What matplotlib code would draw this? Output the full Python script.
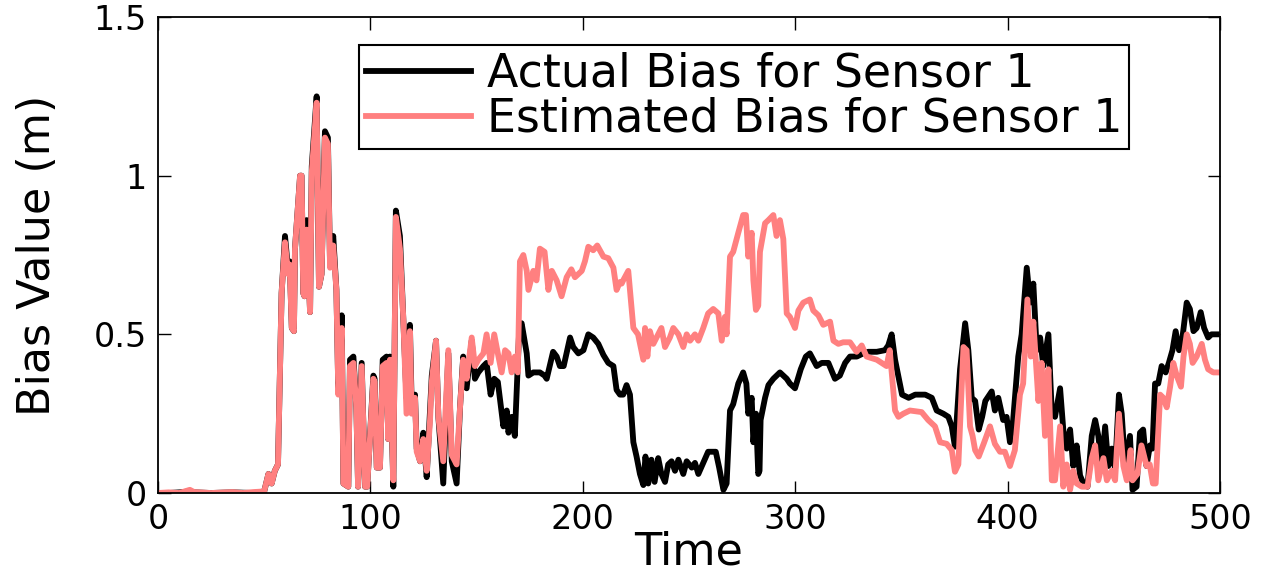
import matplotlib.pyplot as plt

# actual sensor bias (time, value)
t_actual = [0, 5, 10, 15, 17, 25, 35, 45, 50, 52, 53.5, 55, 56.5, 58.2, 59.8, 61.3, 62, 63, 64, 64.5,
            66.9, 67.6, 68.4, 69, 70, 71.6, 72.4, 74.7, 75.8, 77, 78.6, 80, 81, 82.5, 84, 84.9, 86.5,
            87.3, 89.6, 90.4, 92, 93.4, 94.2, 95.9, 97.5, 98.5, 101.4, 102, 103, 104.5, 105.8, 107.6,
            108.4, 109.2, 110.8, 112, 113.9, 115.5, 117, 118.6, 119.4, 121, 121.8, 123.4, 124.9, 126.5,
            128, 128.9, 130.9, 132, 134.3, 136.7, 138.3, 140.6, 142.2, 143.7, 145.3, 147.7, 149.2,
            150.8, 153.2, 154.7, 156.6, 158.3, 160, 162.6, 164.2, 165, 166.5, 168, 170.1, 171.2, 173.6,
            174.4, 176.7, 179.8, 182, 183, 186, 187.7, 189.2, 191, 194, 195.5, 197.9, 200.3, 202.6,
            204.9, 207.3, 209.7, 212, 214.4, 215.9, 217.5, 219, 220.6, 222.2, 223.8, 225.3, 226.9,
            228.5, 229.5, 230.8, 232.3, 233.8, 235.5, 237, 238.7, 240.2, 241.8, 243.4, 245, 247.3,
            248.9, 251.3, 252.8, 254.4, 256.7, 259, 262.6, 264.2, 266.2, 267.7, 269.3, 270.8, 273.2,
            275.5, 277, 277.9, 279.5, 280.3, 281.5, 282.6, 283.2, 283.7, 285.8, 287.4, 289.7, 292.8,
            294.4, 296, 297.5, 299.9, 302.6, 305, 306.9, 310.1, 312.5, 315.6, 318.7, 321, 323.5,
            325.8, 329, 332, 334.4, 338.4, 342.2, 343.8, 345.4, 347, 350.3, 353.4, 356.5, 361.2,
            364.3, 366.6, 369.7, 372.1, 373.7, 375.2, 377.6, 380, 381.5, 383.1, 384.7, 386.4, 388,
            389.5, 392.5, 394, 395.6, 397.9, 399.5, 401.1, 402.6, 405, 406.6, 409, 410.6, 412.1,
            413.7, 415.3, 416.8, 419.2, 420.8, 422.3, 424.7, 426.2, 427.8, 429.4, 430.9, 432.5,
            434.1, 435.7, 437.6, 439.6, 441.2, 442.7, 444.3, 445.9, 447.4, 449, 450.6, 452.4, 453.7,
            455.3, 457.6, 458.8, 460.7, 462.3, 463.8, 465.4, 467, 468.2, 469.4, 470.9, 472.5, 474.4,
            475.9, 477.6, 479.1, 480.7, 482.3, 484.3, 485.8, 487.5, 489, 490.9, 492.5, 494.4, 496,
            499.3, 500]
bias_actual = [0.0, 0.0, 0.002, 0.005, 0.002, 0.0, 0.002, 0.0, 0.005, 0.06, 0.03, 0.07, 0.09, 0.63,
               0.81, 0.70, 0.73, 0.52, 0.51, 0.77, 1.0, 1.0, 0.63, 0.62, 0.86, 0.57, 1.03, 1.25, 0.65,
               0.69, 1.14, 1.12, 0.72, 0.81, 0.64, 0.32, 0.56, 0.03, 0.02, 0.42, 0.43, 0.27, 0.02,
               0.41, 0.02, 0.02, 0.37, 0.36, 0.08, 0.08, 0.42, 0.43, 0.17, 0.43, 0.02, 0.89, 0.81,
               0.55, 0.30, 0.53, 0.29, 0.31, 0.14, 0.10, 0.19, 0.05, 0.25, 0.37, 0.48, 0.24, 0.03,
               0.44, 0.10, 0.03, 0.27, 0.43, 0.33, 0.48, 0.36, 0.38, 0.40, 0.41, 0.31, 0.36, 0.35,
               0.21, 0.26, 0.19, 0.24, 0.18, 0.52, 0.535, 0.44, 0.37, 0.38, 0.38, 0.37, 0.36, 0.445,
               0.43, 0.40, 0.40, 0.49, 0.46, 0.44, 0.45, 0.50, 0.49, 0.47, 0.435, 0.41, 0.40, 0.325,
               0.31, 0.31, 0.34, 0.31, 0.16, 0.115, 0.06, 0.025, 0.115, 0.03, 0.105, 0.035, 0.11,
               0.06, 0.035, 0.09, 0.10, 0.07, 0.105, 0.06, 0.10, 0.08, 0.095, 0.06, 0.095, 0.13,
               0.13, 0.08, 0.01, 0.03, 0.26, 0.28, 0.345, 0.38, 0.345, 0.25, 0.30, 0.16, 0.25, 0.06,
               0.07, 0.23, 0.30, 0.34, 0.36, 0.38, 0.37, 0.36, 0.345, 0.33, 0.39, 0.43, 0.44, 0.40,
               0.41, 0.41, 0.36, 0.37, 0.41, 0.43, 0.43, 0.44, 0.445, 0.445, 0.45, 0.465, 0.50, 0.42,
               0.31, 0.30, 0.31, 0.31, 0.30, 0.26, 0.25, 0.24, 0.21, 0.146, 0.39, 0.535, 0.45, 0.30,
               0.29, 0.20, 0.24, 0.29, 0.32, 0.26, 0.30, 0.23, 0.24, 0.16, 0.23, 0.43, 0.50, 0.71,
               0.60, 0.66, 0.45, 0.49, 0.40, 0.50, 0.25, 0.24, 0.33, 0.20, 0.14, 0.20, 0.085, 0.15,
               0.055, 0.03, 0.02, 0.18, 0.23, 0.18, 0.085, 0.21, 0.085, 0.14, 0.075, 0.31, 0.25,
               0.085, 0.18, 0.01, 0.02, 0.19, 0.20, 0.085, 0.15, 0.14, 0.345, 0.345, 0.40, 0.38,
               0.41, 0.45, 0.51, 0.45, 0.49, 0.60, 0.58, 0.51, 0.52, 0.57, 0.52, 0.49, 0.50, 0.50,
               0.50]

# estimated sensor bias (time, value)
t_est = [0, 5, 10, 15, 17, 25, 35, 40, 45, 50, 52, 53.5, 55, 56.5, 58.2, 59.8, 61.3, 62, 63, 64, 64.5,
         66.9, 67.6, 68.4, 69, 70, 71.6, 72.4, 74.7, 75.8, 77, 78.6, 80, 81, 82.5, 84, 84.9, 86.5,
         87.3, 89.6, 90.4, 92, 93.4, 94.2, 95.9, 97.5, 98.5, 101.4, 102, 103, 104.5, 105.8, 107.6,
         108.4, 109.2, 110.8, 112, 113.9, 115.5, 117, 118.6, 119.4, 121, 121.8, 123.4, 124.9, 126.5,
         128, 128.9, 130.9, 132, 134.3, 136.7, 138.3, 140.6, 142.2, 143.7, 145.3, 147.7, 149.2,
         150.8, 153.2, 154.7, 156.6, 158.3, 160, 161.8, 163.4, 165, 166.5, 168, 169.4, 170.4, 172,
         173.6, 174.4, 176.7, 178.2, 179.8, 182, 183.8, 185.4, 187.7, 190, 192.4, 194.6, 196.3,
         199.5, 201, 202.6, 204.9, 206.8, 209.7, 212, 214.4, 215.9, 217.5, 218.3, 219, 221.4,
         222.2, 223.8, 226, 228.5, 229.3, 230.4, 231.6, 233.2, 235.5, 237, 238.7, 241, 242.6, 245,
         247.3, 248.9, 250.5, 252.8, 254.4, 256.7, 259, 261.4, 263.8, 265.4, 266.9, 267.7, 269.3,
         270.8, 273.2, 275.5, 276.8, 277.9, 279.5, 280.3, 281.5, 282.6, 283.4, 285.8, 287.4, 289.7,
         291.2, 292.8, 294.4, 296, 297.5, 299.9, 301.5, 303.8, 306.9, 308.5, 310.9, 313.2, 316.4,
         318, 320.3, 322.6, 325.8, 328.9, 331.3, 333.6, 338.4, 343, 344.5, 347, 348.6, 350.9, 354,
         359.5, 362.6, 365.8, 368.2, 371.3, 373.7, 375.2, 376.8, 379.2, 380.7, 382.3, 383.5, 384.7,
         386.4, 388.7, 391.7, 394, 396.4, 398.7, 401.1, 403.4, 405.8, 407.3, 409.3, 410.9, 412.1,
         414.5, 416, 417.6, 419.2, 420.8, 422.3, 424.7, 426.2, 427.8, 429.4, 430.9, 432.5, 434.9,
         437.6, 439.6, 441.2, 442.7, 445.1, 446.7, 449, 450.6, 452.4, 454.5, 456.1, 457.9, 458.8,
         461.1, 463, 465.4, 466.9, 468.4, 469.7, 471.8, 473.3, 474.9, 476.5, 478, 479.6, 481.6,
         482.8, 484.3, 485.8, 487.1, 489, 491.4, 492.9, 494.4, 496.8, 500]
bias_est = [0.0, 0.002, 0.0, 0.01, 0.003, 0.0, 0.003, 0.0, 0.003, 0.005, 0.06, 0.03, 0.07, 0.09, 0.63,
            0.79, 0.69, 0.72, 0.52, 0.51, 0.77, 1.0, 1.0, 0.63, 0.62, 0.83, 0.57, 1.01, 1.23, 0.65,
            0.69, 1.12, 1.10, 0.71, 0.78, 0.64, 0.31, 0.52, 0.03, 0.02, 0.40, 0.41, 0.27, 0.02, 0.40,
            0.02, 0.02, 0.36, 0.35, 0.08, 0.08, 0.40, 0.41, 0.17, 0.42, 0.04, 0.87, 0.77, 0.55, 0.25,
            0.51, 0.25, 0.30, 0.13, 0.10, 0.17, 0.07, 0.22, 0.35, 0.48, 0.24, 0.10, 0.45, 0.12, 0.09,
            0.27, 0.42, 0.36, 0.49, 0.40, 0.42, 0.44, 0.50, 0.41, 0.50, 0.44, 0.38, 0.45, 0.44, 0.38,
            0.43, 0.38, 0.73, 0.75, 0.70, 0.64, 0.70, 0.67, 0.77, 0.76, 0.64, 0.70, 0.67, 0.62, 0.68,
            0.705, 0.68, 0.70, 0.73, 0.776, 0.765, 0.78, 0.745, 0.74, 0.71, 0.64, 0.665, 0.66, 0.67,
            0.70, 0.64, 0.52, 0.50, 0.42, 0.52, 0.43, 0.51, 0.47, 0.50, 0.52, 0.46, 0.49, 0.52, 0.50,
            0.46, 0.50, 0.48, 0.50, 0.48, 0.52, 0.566, 0.58, 0.566, 0.48, 0.555, 0.50, 0.745, 0.76,
            0.82, 0.876, 0.876, 0.745, 0.82, 0.67, 0.577, 0.59, 0.76, 0.85, 0.86, 0.876, 0.81, 0.86,
            0.80, 0.566, 0.555, 0.52, 0.575, 0.60, 0.61, 0.575, 0.56, 0.53, 0.54, 0.48, 0.47, 0.475,
            0.475, 0.445, 0.465, 0.43, 0.42, 0.40, 0.45, 0.26, 0.24, 0.25, 0.26, 0.255, 0.23, 0.21,
            0.16, 0.155, 0.135, 0.067, 0.09, 0.46, 0.45, 0.21, 0.18, 0.135, 0.115, 0.155, 0.21, 0.155,
            0.13, 0.13, 0.085, 0.135, 0.31, 0.345, 0.61, 0.43, 0.54, 0.29, 0.41, 0.18, 0.39, 0.04,
            0.04, 0.21, 0.02, 0.09, 0.01, 0.07, 0.03, 0.02, 0.02, 0.11, 0.15, 0.04, 0.11, 0.04, 0.07,
            0.04, 0.25, 0.085, 0.04, 0.135, 0.04, 0.06, 0.15, 0.085, 0.09, 0.03, 0.03, 0.31, 0.30,
            0.27, 0.335, 0.41, 0.37, 0.335, 0.43, 0.50, 0.47, 0.41, 0.43, 0.47, 0.42, 0.39, 0.38,
            0.38]

x_ticks = [0, 100, 200, 300, 400, 500]
y_ticks = [0, 0.5, 1, 1.5]
y_tick_labels = ['0', '0.5', '1', '1.5']

fig = plt.figure(figsize=(12.73, 5.73), dpi=100)
ax = fig.add_axes([0.1241, 0.1396, 0.8343, 0.8307])

ax.plot(t_actual, bias_actual, color='black', lw=4.2, solid_joinstyle='round',
        label='Actual Bias for Sensor 1')
ax.plot(t_est, bias_est, color='#ff8080', lw=4.2, solid_joinstyle='round',
        label='Estimated Bias for Sensor 1')

ax.set_xlim(0, 500)
ax.set_ylim(0, 1.5)
ax.set_xticks(x_ticks)
ax.set_yticks(y_ticks)
ax.set_yticklabels(y_tick_labels)
ax.tick_params(direction='in', length=9, width=1, top=True, right=True, labelsize=24)
ax.tick_params(axis='x', pad=7)
ax.tick_params(axis='y', pad=8)
for s in ax.spines.values():
    s.set_linewidth(1.3)

ax.set_xlabel('Time', fontsize=32, labelpad=-4)
ax.set_ylabel('Bias Value (m)', fontsize=32)
ax.yaxis.set_label_coords(-0.093, 0.5)

leg = ax.legend(loc='upper left', bbox_to_anchor=(0.189, 0.941), fontsize=33,
                handlelength=2.3, handletextpad=0.35, labelspacing=0.0,
                borderpad=0.15, borderaxespad=0, fancybox=False, framealpha=1)
leg.get_frame().set_edgecolor('black')
leg.get_frame().set_linewidth(1.5)

fig.savefig('out.png', dpi=100)
